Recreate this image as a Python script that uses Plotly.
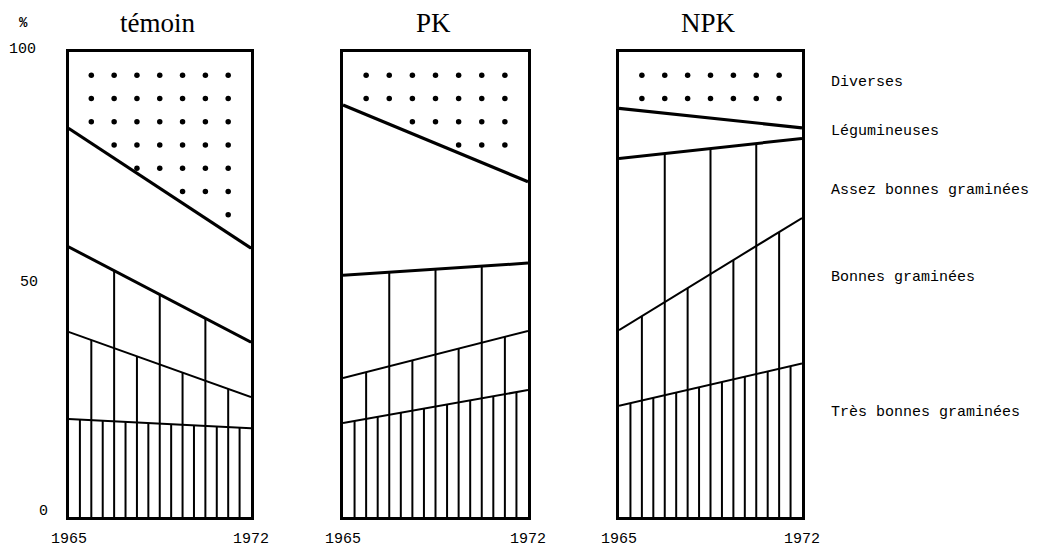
import plotly.graph_objects as go

# ---------------- data (percentages) ----------------
years = [1965, 1972]
panels = ["témoin", "PK", "NPK"]
categories = ["Très bonnes graminées", "Bonnes graminées", "Assez bonnes graminées",
              "Légumineuses", "Diverses"]

# values per category: [1965, 1972]
temoin = {
    "Très bonnes graminées": [21.1, 19.1],
    "Bonnes graminées": [18.7, 6.7],
    "Assez bonnes graminées": [18.3, 11.8],
    "Légumineuses": [25.5, 20.2],
    "Diverses": [16.4, 42.2],
}
pk = {
    "Très bonnes graminées": [20.2, 27.3],
    "Bonnes graminées": [9.7, 12.7],
    "Assez bonnes graminées": [22.1, 14.6],
    "Légumineuses": [36.6, 17.5],
    "Diverses": [11.4, 27.9],
}
npk = {
    "Très bonnes graminées": [23.9, 33.0],
    "Bonnes graminées": [16.3, 31.3],
    "Assez bonnes graminées": [36.9, 17.1],
    "Légumineuses": [10.8, 2.3],
    "Diverses": [12.1, 16.3],
}
panel_data = [temoin, pk, npk]
y_ticks = [0, 50, 100]
x_tick_labels = ["1965", "1972"]

# ---------------- layout helpers (pixels in the final screenshot) ----------------
W, H = 1043, 548
OFF = 8  # the page body margin shifts the figure by this many pixels
panel_px = [(68.5, 251.0), (343.0, 528.0), (619.0, 802.0)]
y0_px, y100_px = 517.0, 52.0
MONO = "Liberation Mono"
SERIF = "Liberation Serif"


def px_x(p):
    return (p - OFF) / W


def px_y(p):
    return (H - (p - OFF)) / H


def cum_bounds(d):
    """cumulative upper boundaries for the first four categories"""
    out = []
    acc = [0.0, 0.0]
    for c in categories[:4]:
        acc = [acc[i] + d[c][i] for i in range(2)]
        out.append(list(acc))
    return out


def interp(b, x):
    t = (x - years[0]) / (years[1] - years[0])
    return b[0] + t * (b[1] - b[0])


fig = go.Figure()

for i, d in enumerate(panel_data):
    xa = "x" if i == 0 else f"x{i+1}"
    ya = "y" if i == 0 else f"y{i+1}"
    bounds = cum_bounds(d)

    # vertical hatch lines (dense / medium / wide), continuous from the bottom
    hx, hy = [], []
    for k in range(1, 16):
        x = years[0] + (years[1] - years[0]) * k / 16
        if k % 4 == 0:
            top = interp(bounds[2], x)
        elif k % 2 == 0:
            top = interp(bounds[1], x)
        else:
            top = interp(bounds[0], x)
        hx += [x, x, None]
        hy += [0, top, None]
    fig.add_trace(go.Scatter(x=hx, y=hy, mode="lines", xaxis=xa, yaxis=ya,
                             line=dict(color="black", width=2.0),
                             hoverinfo="skip", showlegend=False))

    # dotted pattern for "Diverses"
    dx, dy = [], []
    for row in [95, 90, 85, 80, 75, 70, 65, 60]:
        for k in range(1, 8):
            x = years[0] + (years[1] - years[0]) * k / 8
            if row > interp(bounds[3], x) + 1.0:
                dx.append(x)
                dy.append(row)
    fig.add_trace(go.Scatter(x=dx, y=dy, mode="markers", xaxis=xa, yaxis=ya,
                             marker=dict(color="black", size=5.5),
                             hoverinfo="skip", showlegend=False))

    # boundary lines
    widths = [2.0, 2.0, 3.0, 3.2]
    for b, w in zip(bounds, widths):
        fig.add_trace(go.Scatter(x=years, y=b, mode="lines", xaxis=xa, yaxis=ya,
                                 line=dict(color="black", width=w),
                                 hoverinfo="skip", showlegend=False,
                                 cliponaxis=False))

layout = dict(
    width=W, height=H,
    margin=dict(l=0, r=0, t=0, b=0),
    paper_bgcolor="white", plot_bgcolor="white",
    showlegend=False,
)
annotations = []
for i, (l, r) in enumerate(panel_px):
    sx = "" if i == 0 else str(i + 1)
    layout["xaxis" + sx] = dict(
        domain=[px_x(l), px_x(r)], range=years, anchor="y" + sx,
        showgrid=False, zeroline=False, showline=True, mirror=True,
        linecolor="black", linewidth=2.5, showticklabels=False, ticks="",
    )
    layout["yaxis" + sx] = dict(
        domain=[px_y(y0_px), px_y(y100_px)], range=[0, 100], anchor="x" + sx,
        showgrid=False, zeroline=False, showline=True, mirror=True,
        linecolor="black", linewidth=2.5, showticklabels=False, ticks="",
    )
    annotations.append(dict(
        text=panels[i], xref="paper", yref="paper",
        x=px_x((l + r) / 2 - 2), y=px_y(23), xanchor="center", yanchor="middle",
        showarrow=False, font=dict(family=SERIF, size=27, color="black")))
    # year labels under both edges of the panel
    for yr, txt in zip(years, x_tick_labels):
        annotations.append(dict(
            text=txt, xref="x" + sx, yref="paper", x=yr, y=px_y(539),
            xanchor="center", yanchor="middle", showarrow=False,
            font=dict(family=MONO, size=15, color="black")))

# y tick labels and unit
ytick_px = {100: (22, 50), 50: (29, 282), 0: (43, 511)}
for v in y_ticks:
    xp, yp = ytick_px[v]
    annotations.append(dict(text=str(v), xref="paper", yref="paper",
                            x=px_x(xp), y=px_y(yp), xanchor="center", yanchor="middle",
                            showarrow=False, font=dict(family=MONO, size=15, color="black")))
annotations.append(dict(text="<b>%</b>", xref="paper", yref="paper",
                        x=px_x(23), y=px_y(23), xanchor="center", yanchor="middle",
                        showarrow=False, font=dict(family=MONO, size=14, color="black")))

# category labels on the right (top to bottom)
label_px = {"Diverses": 83, "Légumineuses": 132, "Assez bonnes graminées": 190,
            "Bonnes graminées": 277, "Très bonnes graminées": 412}
for c in categories:
    annotations.append(dict(text=c, xref="paper", yref="paper",
                            x=px_x(829), y=px_y(label_px[c]), xanchor="left",
                            yanchor="middle", showarrow=False,
                            font=dict(family=MONO, size=15, color="black")))

layout["annotations"] = annotations
fig.update_layout(**layout)
fig.write_html("out.html")
